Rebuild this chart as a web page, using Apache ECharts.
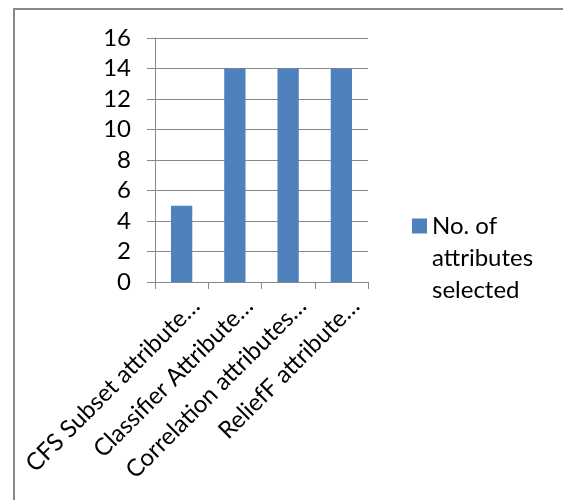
<!DOCTYPE html>
<html>
<head>
<meta charset="utf-8">
<script src="https://cdn.jsdelivr.net/npm/echarts@6/dist/echarts.min.js"></script>
<style>
  html, body { margin: 0; padding: 0; background: #fff; }
  #chart { width: 563px; height: 500px; }
</style>
</head>
<body>
<div id="chart"></div>
<script>
// Attribute selection methods and how many attributes each one kept
const categories = [
  'CFS Subset attribute\u2026',
  'Classifier Attribute\u2026',
  'Correlation attributes\u2026',
  'ReliefF attribute\u2026'
];
const selectedCounts = [5, 14, 14, 14];
const seriesName = 'No. of attributes selected';
const legendLines = ['No. of', 'attributes', 'selected'];
const yTicks = { min: 0, max: 16, interval: 2 };

const FONT = 'Lato';
const FONT_SIZE = 24;
const GRAY = '#888888';

const chart = echarts.init(document.getElementById('chart'), null, { renderer: 'canvas' });

chart.setOption({
  animation: false,
  backgroundColor: '#ffffff',
  textStyle: { fontFamily: FONT, color: '#000' },
  graphic: [{
    type: 'rect',
    shape: { x: 14, y: 9, width: 700, height: 700 },
    style: { fill: 'none', stroke: GRAY, lineWidth: 2 },
    silent: true,
    z: -10
  }],
  grid: { left: 155, right: 195, top: 38, bottom: 218, containLabel: false },
  legend: {
    left: 407,
    top: 141,
    orient: 'vertical',
    icon: 'rect',
    itemWidth: 15,
    itemHeight: 15,
    itemGap: 0,
    // two empty lines on top keep the marker level with the first text line
    formatter: () => '\n\n' + legendLines.join('\n'),
    textStyle: {
      fontFamily: FONT,
      fontSize: FONT_SIZE,
      color: '#000',
      lineHeight: 32
    }
  },
  xAxis: {
    type: 'category',
    data: categories,
    boundaryGap: true,
    axisLine: { lineStyle: { color: GRAY, width: 1 } },
    axisTick: { show: true, length: 7, lineStyle: { color: GRAY } },
    axisLabel: {
      interval: 0,
      rotate: 45,
      margin: 6,
      align: 'right',
      verticalAlign: 'top',
      padding: [8, 0, 0, 0],
      fontFamily: FONT,
      fontSize: FONT_SIZE,
      color: '#000'
    }
  },
  yAxis: {
    type: 'value',
    min: yTicks.min,
    max: yTicks.max,
    interval: yTicks.interval,
    axisLine: { show: true, lineStyle: { color: GRAY, width: 1 } },
    axisTick: { show: true, length: 8, lineStyle: { color: GRAY } },
    splitLine: { show: true, lineStyle: { color: GRAY, width: 1 } },
    axisLabel: {
      margin: 24,
      fontFamily: FONT,
      fontSize: FONT_SIZE,
      color: '#000'
    }
  },
  series: [{
    name: seriesName,
    type: 'bar',
    data: selectedCounts,
    barWidth: '40%',
    itemStyle: { color: '#4F81BD' }
  }]
});
</script>
</body>
</html>
